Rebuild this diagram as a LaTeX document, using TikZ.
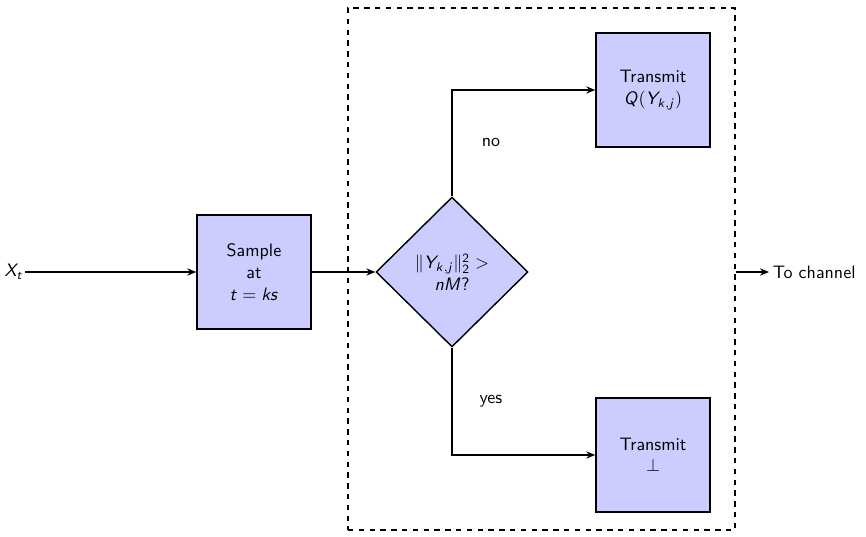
\documentclass[tikz,border=0pt]{standalone}
\usetikzlibrary{shapes.geometric,arrows.meta}
\DeclareMathAlphabet{\mathsfit}{OT1}{cmss}{m}{sl}
\DeclareMathAlphabet{\mathsfup}{OT1}{cmss}{m}{n}
\newcommand{\si}[1]{\mathsfit{#1}}
\newcommand{\su}[1]{\mathsfup{#1}}
\begin{document}
\begin{tikzpicture}[x=0.5556pt,y=-0.5556pt,
  font=\sffamily,
  blk/.style={draw, fill=blue!20, thick, minimum width=63.3pt, minimum height=63.3pt, align=center, inner sep=2pt},
  dec/.style={draw, fill=blue!20, thick, diamond, aspect=1, minimum width=84.4pt, minimum height=83.3pt, align=center, inner sep=0pt},
  arr/.style={thick, -{Stealth[length=5pt,width=4pt]}},
  lbl/.style={inner sep=1pt}]
\useasboundingbox (0,0) rectangle (866,537);
\node[draw, dashed, thick, minimum width=215pt, minimum height=290pt, inner sep=0pt] (frame) at (541.5,269) {};
\node (xt) at (14,272) [inner sep=1pt] {$\si{X}_{\si{t}}$};
\node[blk] (sample) at (254,272) {Sample\\at\\$\si{t}=\si{ks}$};
\node[dec] (decide) at (452,272) {$\|\si{Y}_{\si{k},\si{j}}\|_{\su{2}}^{\su{2}} >$\\$\si{nM}$?};
\node[blk] (tq) at (653,90) {Transmit\\$\si{Q}\su{(}\si{Y}_{\si{k},\si{j}}\su{)}$};
\node[blk] (tb) at (653,455) {Transmit\\$\perp$};
\node[lbl] (no) at (491,142) {no};
\node[lbl] (yes) at (491,401) {yes};
\node[anchor=west, inner sep=2pt] (ch) at (769,272) {To channel};
\draw[arr] (xt.east) -- (sample.west);
\draw[arr] (sample.east) -- (decide.west);
\draw[arr] (decide.north) |- (tq.west);
\draw[arr] (decide.south) |- (tb.west);
\draw[arr] (frame.east |- ch.west) -- (ch.west);
\end{tikzpicture}
\end{document}
